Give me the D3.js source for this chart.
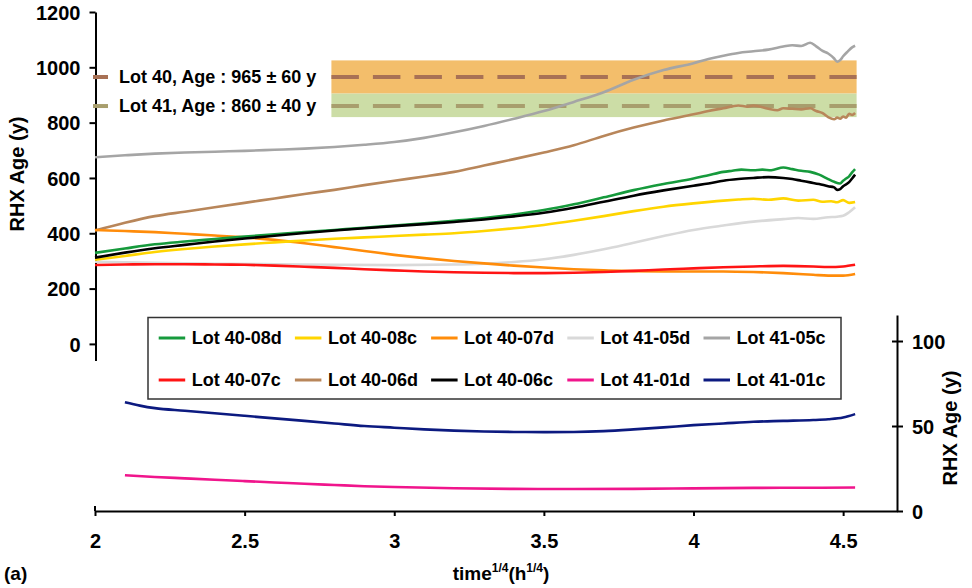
<!DOCTYPE html>
<html>
<head>
<meta charset="utf-8">
<script src="https://cdn.jsdelivr.net/npm/d3@7/dist/d3.min.js"></script>
<style>
  html, body { margin: 0; padding: 0; background: #fff; }
  svg { display: block; }
  text { font-family: "Liberation Sans", Arial, sans-serif; font-weight: bold; fill: #000; }
</style>
</head>
<body>
<svg id="chart" width="972" height="588"></svg>
<script>
// ---- Data: time^(1/4) in h^(1/4) against RHX age in years ----
const lot4008d = [[2.0,329],[2.1,345],[2.2,360],[2.3,370],[2.4,379],[2.5,388],[2.6,396],[2.7,404],[2.8,412],[2.9,420],[3.0,428],[3.1,436],[3.2,445],[3.3,455],[3.4,468],[3.5,484],[3.6,505],[3.7,530],[3.8,556],[3.9,578],[4.0,598],[4.05,610],[4.1,622],[4.13,626],[4.16,630],[4.2,628],[4.23,630],[4.26,628],[4.3,638],[4.33,632],[4.36,626],[4.39,622],[4.42,612],[4.45,596],[4.47,586],[4.49,580],[4.5,590],[4.51,598],[4.52,606],[4.53,620],[4.54,632]];
const lot4008c = [[2.0,304],[2.1,318],[2.2,332],[2.3,343],[2.4,352],[2.5,360],[2.6,367],[2.7,374],[2.8,380],[2.9,385],[3.0,390],[3.1,395],[3.2,400],[3.3,408],[3.4,418],[3.5,430],[3.6,445],[3.7,462],[3.8,480],[3.9,496],[4.0,508],[4.1,518],[4.15,522],[4.2,525],[4.25,521],[4.3,526],[4.35,518],[4.4,521],[4.43,514],[4.46,516],[4.48,512],[4.5,520],[4.52,510],[4.54,513]];
const lot4007d = [[2.0,412],[2.1,408],[2.2,404],[2.3,398],[2.4,392],[2.5,385],[2.6,376],[2.7,364],[2.8,350],[2.9,336],[3.0,322],[3.1,310],[3.2,300],[3.3,291],[3.4,283],[3.5,276],[3.6,270],[3.7,266],[3.8,263],[3.9,262],[4.0,262],[4.1,262],[4.2,260],[4.3,256],[4.4,250],[4.45,247],[4.5,247],[4.54,253]];
const lot4105d = [[2.0,297],[2.2,293],[2.4,290],[2.6,288],[2.8,286],[3.0,285],[3.2,287],[3.3,290],[3.4,296],[3.5,306],[3.6,322],[3.7,342],[3.8,366],[3.9,390],[4.0,412],[4.1,428],[4.2,442],[4.3,451],[4.35,455],[4.4,452],[4.45,458],[4.48,460],[4.5,463],[4.52,476],[4.54,494]];
const lot4105c = [[2.0,675],[2.1,682],[2.2,688],[2.3,692],[2.4,695],[2.5,698],[2.6,702],[2.7,706],[2.8,712],[2.9,720],[3.0,730],[3.1,745],[3.2,765],[3.3,788],[3.4,814],[3.5,842],[3.6,875],[3.7,910],[3.8,955],[3.9,990],[4.0,1015],[4.05,1030],[4.1,1042],[4.15,1052],[4.2,1058],[4.25,1064],[4.3,1075],[4.33,1080],[4.36,1077],[4.39,1089],[4.41,1076],[4.43,1060],[4.45,1050],[4.47,1032],[4.48,1020],[4.49,1026],[4.5,1040],[4.515,1057],[4.53,1072],[4.54,1078]];
const lot4007c = [[2.0,285],[2.1,287],[2.2,288],[2.3,288],[2.4,287],[2.5,286],[2.6,283],[2.7,279],[2.8,275],[2.9,270],[3.0,266],[3.1,262],[3.2,259],[3.3,257],[3.4,256],[3.5,256],[3.6,257],[3.7,260],[3.8,264],[3.9,269],[4.0,273],[4.1,277],[4.2,280],[4.3,282],[4.4,280],[4.45,278],[4.5,280],[4.54,286]];
const lot4006d = [[2.0,410],[2.1,438],[2.2,462],[2.3,478],[2.4,494],[2.5,510],[2.6,526],[2.7,542],[2.8,557],[2.9,574],[3.0,590],[3.1,605],[3.2,622],[3.3,645],[3.4,668],[3.5,692],[3.6,718],[3.7,752],[3.8,782],[3.9,808],[4.0,830],[4.05,842],[4.1,852],[4.15,862],[4.18,858],[4.2,862],[4.25,850],[4.28,845],[4.3,852],[4.33,850],[4.36,848],[4.39,852],[4.41,842],[4.43,835],[4.45,820],[4.47,812],[4.48,818],[4.49,814],[4.5,822],[4.51,818],[4.52,832],[4.53,828],[4.54,835]];
const lot4006c = [[2.0,312],[2.1,330],[2.2,346],[2.3,358],[2.4,370],[2.5,381],[2.6,391],[2.7,401],[2.8,410],[2.9,418],[3.0,426],[3.1,433],[3.2,441],[3.3,450],[3.4,461],[3.5,474],[3.6,492],[3.7,514],[3.8,536],[3.9,555],[4.0,572],[4.05,580],[4.1,590],[4.15,596],[4.2,600],[4.25,603],[4.3,600],[4.33,596],[4.36,590],[4.39,584],[4.42,578],[4.45,570],[4.47,566],[4.48,557],[4.49,560],[4.5,570],[4.52,585],[4.53,598],[4.54,612]];
// Lot 41-01 samples use the right-hand axis
const lot4101d = [[2.1,21],[2.2,20],[2.3,19.2],[2.4,18.4],[2.5,17.6],[2.6,16.8],[2.7,16],[2.8,15.3],[2.9,14.6],[3.0,14.1],[3.2,13.4],[3.4,13],[3.6,12.9],[3.8,13],[4.0,13.3],[4.2,13.6],[4.4,13.7],[4.54,13.8]];
const lot4101c = [[2.1,64],[2.15,62],[2.2,60.5],[2.3,59],[2.4,57.5],[2.5,56],[2.6,54.5],[2.7,53],[2.8,51.5],[2.9,50],[3.0,49],[3.1,48],[3.2,47.3],[3.3,46.8],[3.4,46.5],[3.5,46.4],[3.6,46.5],[3.7,47],[3.8,48],[3.9,49.2],[4.0,50.5],[4.1,51.5],[4.2,52.5],[4.3,53],[4.4,53.5],[4.45,54],[4.5,55],[4.54,57]];

// Reference ages of the two lots (mean ± uncertainty)
const refLabels = ["Lot 40, Age : 965 \u00b1 60 y", "Lot 41, Age : 860 \u00b1 40 y"];
const refAges = [965, 860];
const refErrors = [60, 40];
const refBandSpan = [2.79, 4.545];

const xTicks = [2, 2.5, 3, 3.5, 4, 4.5];
const leftTicks = [0, 200, 400, 600, 800, 1000, 1200];
const rightTicks = [0, 50, 100];

const seriesNames = ["Lot 40-08d","Lot 40-08c","Lot 40-07d","Lot 41-05d","Lot 41-05c","Lot 40-07c","Lot 40-06d","Lot 40-06c","Lot 41-01d","Lot 41-01c"];
const seriesColors = ["#169a3c","#ffd500","#ff8c0a","#d9d9d9","#a5a5a5","#ff1414","#b8865a","#000000","#f0158c","#0c1a80"];
const seriesData = [lot4008d, lot4008c, lot4007d, lot4105d, lot4105c, lot4007c, lot4006d, lot4006c, lot4101d, lot4101c];
const seriesAxis = ["L","L","L","L","L","L","L","L","R","R"];
const drawOrder = [3, 4, 6, 2, 5, 1, 0, 7, 8, 9];

// ---- Scales ----
const svg = d3.select("#chart");
const x = d3.scaleLinear().domain([2, 4.68]).range([95, 897]);
const yL = d3.scaleLinear().domain([-60, 1200]).range([360.5, 12]);
const yR = d3.scaleLinear().domain([0, 115.3]).range([511, 315]);

// ---- Reference bands and dashed lines ----
const bandColors = ["#f3be6b", "#ccdda6"];
const dashColors = ["#a87155", "#a89e6d"];
const bandG = svg.append("g");
// upper band full height, lower band stops where the upper one begins
const bandTops = [refAges[0] + refErrors[0], refAges[0] - refErrors[0]];
const bandBottoms = [refAges[0] - refErrors[0], refAges[1] - refErrors[1]];
bandColors.forEach((c, i) => {
  bandG.append("rect")
    .attr("x", x(refBandSpan[0])).attr("width", x(refBandSpan[1]) - x(refBandSpan[0]))
    .attr("y", yL(bandTops[i])).attr("height", yL(bandBottoms[i]) - yL(bandTops[i]))
    .attr("fill", c);
});
refAges.forEach((a, i) => {
  bandG.append("line")
    .attr("x1", x(refBandSpan[0])).attr("x2", x(refBandSpan[1]))
    .attr("y1", yL(a)).attr("y2", yL(a))
    .attr("stroke", dashColors[i]).attr("stroke-width", 4)
    .attr("stroke-dasharray", "27.5,14");
});

// ---- Axes ----
const axisStyle = g => {
  g.selectAll("path.domain").attr("stroke", "#000").attr("stroke-width", 2);
  g.selectAll(".tick line").attr("stroke", "#000").attr("stroke-width", 2);
  g.selectAll(".tick text").attr("font-size", 20).attr("font-family", "Liberation Sans, Arial, sans-serif").attr("font-weight", "bold");
};

const gL = svg.append("g").attr("transform", "translate(95.5,0)")
  .call(d3.axisLeft(yL).tickValues(leftTicks).tickFormat(d3.format("d")).tickSize(6).tickSizeOuter(0).tickPadding(9));
axisStyle(gL);
gL.selectAll(".tick text").attr("dy", "0.36em");

const gX = svg.append("g").attr("transform", "translate(0,511)")
  .call(d3.axisBottom(x).tickValues(xTicks).tickFormat(d3.format("")).tickSize(5).tickSizeOuter(0).tickPadding(22));
axisStyle(gX);
gX.selectAll(".tick text").attr("dy", "0.71em").attr("y", 22.5);
gX.append("line").attr("x1", x(2)).attr("x2", x(2)).attr("y1", -5).attr("y2", 0)
  .attr("stroke", "#000").attr("stroke-width", 2);

const gR = svg.append("g").attr("transform", "translate(897,0)")
  .call(d3.axisRight(yR).tickValues(rightTicks).tickFormat(d3.format("d")).tickSize(6).tickSizeOuter(0).tickPadding(9));
axisStyle(gR);
gR.selectAll(".tick text").attr("dy", "0.36em");
gR.selectAll(".tick line").filter(d => d !== 0).attr("x1", -5);

// ---- Series lines ----
const lineL = d3.line().x(d => x(d[0])).y(d => yL(d[1])).curve(d3.curveMonotoneX);
const lineR = d3.line().x(d => x(d[0])).y(d => yR(d[1])).curve(d3.curveMonotoneX);
const linesG = svg.append("g");
drawOrder.forEach(i => {
  linesG.append("path")
    .datum(seriesData[i])
    .attr("d", seriesAxis[i] === "L" ? lineL : lineR)
    .attr("fill", "none")
    .attr("stroke", seriesColors[i])
    .attr("stroke-width", 2.6)
    .attr("stroke-linejoin", "round");
});

// ---- Reference labels at the left ----
refAges.forEach((a, i) => {
  svg.append("line").attr("x1", 93).attr("x2", 108).attr("y1", yL(a)).attr("y2", yL(a))
    .attr("stroke", dashColors[i]).attr("stroke-width", 4);
  svg.append("text").attr("x", 119).attr("y", yL(a)).attr("dy", "0.33em")
    .attr("font-size", 18).text(refLabels[i]);
});

// ---- Legend ----
const leg = svg.append("g");
leg.append("rect").attr("x", 148).attr("y", 317.5).attr("width", 693).attr("height", 81.5)
  .attr("fill", "#fff").attr("stroke", "#333").attr("stroke-width", 1.5);
seriesNames.forEach((name, i) => {
  const col = i % 5, row = Math.floor(i / 5);
  const tx = 191.7 + col * 136.2;
  const ty = row === 0 ? 338 : 380;
  leg.append("line").attr("x1", tx - 33).attr("x2", tx - 6.5).attr("y1", ty).attr("y2", ty)
    .attr("stroke", seriesColors[i]).attr("stroke-width", 3);
  leg.append("text").attr("x", tx).attr("y", ty).attr("dy", "0.36em")
    .attr("font-size", 18).text(name);
});

// ---- Axis titles ----
svg.append("text").attr("transform", "translate(24,174) rotate(-90)")
  .attr("text-anchor", "middle").attr("font-size", 20).text("RHX Age (y)");
svg.append("text").attr("transform", "translate(957,428) rotate(-90)")
  .attr("text-anchor", "middle").attr("font-size", 20).text("RHX Age (y)");

const xt = svg.append("text").attr("x", 501).attr("y", 580).attr("text-anchor", "middle").attr("font-size", 19);
xt.append("tspan").text("time");
xt.append("tspan").attr("font-size", 12).attr("dy", -8).text("1/4");
xt.append("tspan").attr("dy", 8).text("(h");
xt.append("tspan").attr("font-size", 12).attr("dy", -8).text("1/4");
xt.append("tspan").attr("dy", 8).text(")");

svg.append("text").attr("x", 4).attr("y", 580).attr("font-size", 19).text("(a)");
</script>
</body>
</html>
